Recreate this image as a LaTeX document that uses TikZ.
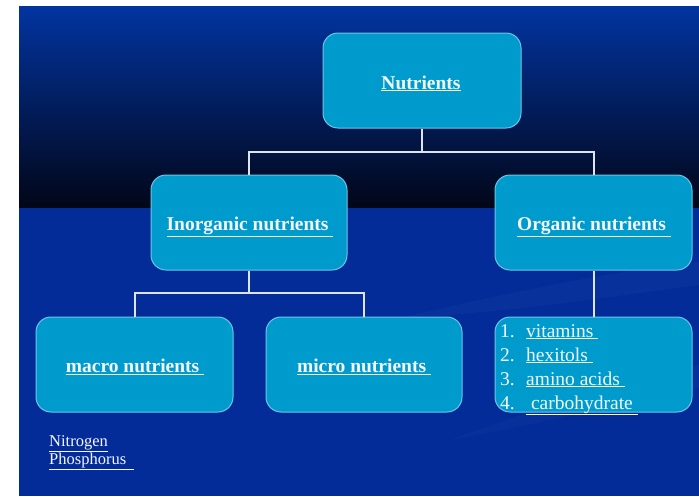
\documentclass[tikz,border=0pt]{standalone}
\usepackage{fontspec}
\setmainfont{Liberation Serif}
\definecolor{topblue}{RGB}{2,52,160}
\definecolor{darkend}{RGB}{2,6,24}
\definecolor{lowblue}{RGB}{4,44,152}
\definecolor{boxfill}{RGB}{0,155,205}
\definecolor{boxline}{RGB}{110,195,232}
\definecolor{connline}{RGB}{222,228,238}
\definecolor{txt}{RGB}{245,247,255}
\definecolor{swoosh}{RGB}{40,90,190}
\tikzset{
  box/.style={draw=boxline, line width=1pt, fill=boxfill, rounded corners=15pt,
    minimum width=196pt, minimum height=95pt, inner sep=0pt},
  boxlabel/.style={anchor=base, inner sep=0pt, text=txt,
    font=\fontsize{19.5}{22}\selectfont\bfseries},
  conn/.style={draw=connline, line width=2pt},
  listitem/.style={anchor=base west, inner sep=0pt, text=txt,
    font=\fontsize{19.5}{24}\selectfont},
  note/.style={anchor=base west, inner sep=0pt, text=txt,
    font=\fontsize{16.5}{19}\selectfont}
}
\begin{document}
\begin{tikzpicture}[x=1pt,y=-1pt]
\useasboundingbox (0,0) rectangle (699,496);
\fill[white] (0,0) rectangle (699,496);
\shade[top color=topblue, bottom color=darkend] (19,6) rectangle (699,208);
\fill[lowblue] (19,208) rectangle (699,496);
% faint background swooshes
\fill[swoosh, opacity=0.12] (400,318) .. controls (520,290) and (620,270) .. (699,262)
  -- (699,285) .. controls (620,295) and (520,312) .. (400,318) -- cycle;
\fill[swoosh, opacity=0.1] (450,440) .. controls (560,400) and (640,375) .. (699,365)
  -- (699,388) .. controls (640,398) and (560,420) .. (450,440) -- cycle;

\node[box, minimum width=198pt] (nut) at (422,80.5) {};
\node[box] (inorg) at (249,222.5) {};
\node[box, minimum width=197pt] (org) at (593.5,222.5) {};
\node[box, minimum width=197pt] (macro) at (134.5,364.5) {};
\node[box] (micro) at (364,364.5) {};
\node[box, minimum width=197pt] (list) at (593.5,364.5) {};

\node[boxlabel] (nutL) at (421,89) {\underline{Nutrients}};
\node[boxlabel] (inorgL) at (250,230.5) {\underline{Inorganic nutrients\ }};
\node[boxlabel] (orgL) at (594,230.5) {\underline{Organic nutrients\ }};
\node[boxlabel] (macroL) at (135,372.5) {\underline{macro nutrients\ }};
\node[boxlabel] (microL) at (364,372.5) {\underline{micro nutrients\ }};

\node[listitem] (n1) at (500,337) {1.};
\node[listitem] (l1) at (526,337) {\underline{vitamins\ }};
\node[listitem] (n2) at (500,361) {2.};
\node[listitem] (l2) at (526,361) {\underline{hexitols\ }};
\node[listitem] (n3) at (500,385) {3.};
\node[listitem] (l3) at (526,385) {\underline{amino acids\ }};
\node[listitem] (n4) at (500,409) {4.};
\node[listitem] (l4) at (526,409) {\underline{\ carbohydrate\ }};

\node[note] (nitro) at (49,446) {\underline{Nitrogen}};
\node[note] (phos) at (49,464) {\underline{Phosphorus\ \ }};

\coordinate (j1) at (422,152);
\coordinate (j2) at (249,293);
\draw[conn] (nut.south) -- (j1);
\draw[conn] (inorg.north) |- (j1) -| (org.north);
\draw[conn] (inorg.south) -- (j2);
\draw[conn] (macro.north) |- (j2) -| (micro.north);
\draw[conn] (org.south) -- (list.north);
\end{tikzpicture}
\end{document}
